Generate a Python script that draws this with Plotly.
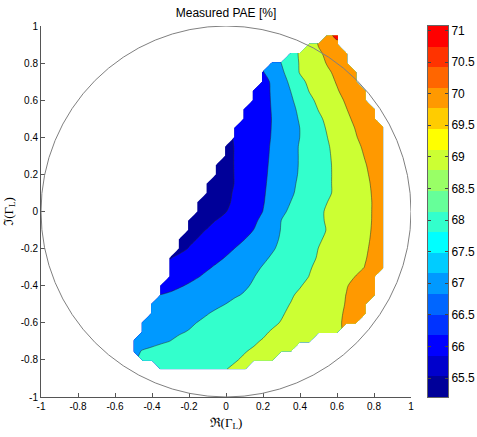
import numpy as np
import plotly.graph_objects as go

# ---------------- data ----------------
# measurement grid: real part (columns) and imaginary part (rows, top -> bottom)
re_grid = [-0.50, -0.45, -0.40, -0.35, -0.30, -0.25, -0.20, -0.15, -0.10, -0.05,
           0.00, 0.05, 0.10, 0.15, 0.20, 0.25, 0.30, 0.35, 0.40, 0.45,
           0.50, 0.55, 0.60, 0.65, 0.70, 0.75, 0.80, 0.85]
im_grid = [0.95, 0.90, 0.85, 0.80, 0.75, 0.70, 0.65, 0.60, 0.55, 0.50,
           0.45, 0.40, 0.35, 0.30, 0.25, 0.20, 0.15, 0.10, 0.05, 0.00,
           -0.05, -0.10, -0.15, -0.20, -0.25, -0.30, -0.35, -0.40, -0.45, -0.50,
           -0.55, -0.60, -0.65, -0.70, -0.75, -0.80, -0.85]
# first measured real-part value of each row
row_first_re = [0.55, 0.45, 0.35, 0.25, 0.20, 0.20, 0.15, 0.15, 0.10, 0.10,
                0.05, 0.05, 0.00, 0.00, -0.05, -0.05, -0.10, -0.10, -0.15, -0.15,
                -0.20, -0.20, -0.25, -0.25, -0.30, -0.30, -0.30, -0.35, -0.35, -0.40,
                -0.40, -0.45, -0.45, -0.50, -0.50, -0.45, -0.35]
# measured PAE [%] along each row (left -> right)
pae_rows = [
    [70.9, 71.1],
    [69.4, 70.05, 70.5, 70.9],
    [68.7, 69.08, 69.46, 69.85, 70.2, 70.55, 70.95],
    [67.5, 68.02, 68.55, 69.07, 69.4, 69.73, 70.07, 70.4, 70.75],
    [66.95, 67.39, 67.83, 68.43, 69.06, 69.33, 69.61, 69.89, 70.17, 70.45, 70.73],
    [66.65, 67.15, 67.65, 68.18, 68.76, 69.18, 69.47, 69.76, 70.06, 70.35, 70.64],
    [66.21, 66.66, 67.11, 67.55, 68.01, 68.53, 69.03, 69.33, 69.64, 69.94, 70.24, 70.55, 70.85],
    [66.28, 66.68, 67.08, 67.48, 67.88, 68.33, 68.81, 69.18, 69.48, 69.79, 70.09, 70.39, 70.7],
    [66.3, 66.5, 66.75, 67.04, 67.41, 67.78, 68.17, 68.61, 69.03, 69.34, 69.66, 69.97, 70.28, 70.6, 70.9],
    [66.2, 66.4, 66.68, 67.03, 67.38, 67.72, 68.08, 68.46, 68.85, 69.19, 69.52, 69.84, 70.16, 70.48, 70.8],
    [66.1, 66.25, 66.45, 66.7, 67.04, 67.36, 67.68, 68.01, 68.37, 68.74, 69.09, 69.41, 69.72, 70.03, 70.34, 70.63, 70.9],
    [66.02, 66.22, 66.45, 66.72, 67.06, 67.37, 67.69, 68.01, 68.34, 68.67, 69.01, 69.32, 69.63, 69.94, 70.25, 70.55, 70.85],
    [65.85, 66.03, 66.28, 66.54, 66.8, 67.08, 67.41, 67.74, 68.06, 68.35, 68.65, 68.94, 69.24, 69.53, 69.82, 70.12, 70.41, 70.7],
    [65.75, 66.05, 66.31, 66.56, 66.82, 67.1, 67.42, 67.74, 68.06, 68.34, 68.63, 68.91, 69.19, 69.47, 69.75, 70.03, 70.3, 70.58],
    [65.5, 65.75, 66.05, 66.32, 66.58, 66.84, 67.13, 67.44, 67.75, 68.06, 68.33, 68.61, 68.89, 69.16, 69.42, 69.68, 69.95, 70.21, 70.47],
    [65.45, 65.72, 66.05, 66.33, 66.6, 66.86, 67.16, 67.47, 67.78, 68.08, 68.35, 68.62, 68.89, 69.15, 69.4, 69.65, 69.9, 70.15, 70.4],
    [65.35, 65.45, 65.7, 66.05, 66.33, 66.61, 66.89, 67.19, 67.52, 67.84, 68.13, 68.38, 68.64, 68.9, 69.14, 69.38, 69.62, 69.86, 70.1, 70.33],
    [65.3, 65.42, 65.8, 66.11, 66.38, 66.65, 66.92, 67.23, 67.57, 67.9, 68.17, 68.41, 68.66, 68.9, 69.14, 69.37, 69.6, 69.84, 70.07, 70.3],
    [65.25, 65.3, 65.5, 65.85, 66.16, 66.42, 66.68, 66.95, 67.29, 67.64, 68.01, 68.25, 68.5, 68.75, 69.01, 69.21, 69.42, 69.63, 69.84, 70.05, 70.26],
    [65.25, 65.35, 65.65, 65.98, 66.25, 66.5, 66.75, 67.01, 67.42, 67.83, 68.15, 68.39, 68.63, 68.87, 69.09, 69.28, 69.47, 69.66, 69.85, 70.05, 70.24],
    [65.3, 65.5, 65.8, 66.04, 66.25, 66.46, 66.67, 66.88, 67.17, 67.61, 68.02, 68.23, 68.45, 68.66, 68.87, 69.08, 69.27, 69.46, 69.66, 69.86, 70.05, 70.24],
    [65.5, 65.85, 66.05, 66.23, 66.41, 66.59, 66.77, 67.01, 67.37, 67.72, 68.04, 68.24, 68.44, 68.64, 68.84, 69.04, 69.25, 69.45, 69.66, 69.86, 70.07, 70.27],
    [65.55, 65.85, 66.04, 66.22, 66.41, 66.59, 66.78, 66.99, 67.28, 67.56, 67.83, 68.08, 68.29, 68.5, 68.71, 68.92, 69.12, 69.31, 69.5, 69.7, 69.89, 70.09, 70.28],
    [65.8, 66.04, 66.24, 66.43, 66.63, 66.82, 67.02, 67.25, 67.48, 67.7, 67.93, 68.15, 68.36, 68.57, 68.79, 69.01, 69.19, 69.37, 69.56, 69.74, 69.93, 70.11, 70.3],
    [65.98, 66.17, 66.34, 66.52, 66.69, 66.86, 67.04, 67.25, 67.46, 67.67, 67.88, 68.08, 68.27, 68.47, 68.67, 68.86, 69.05, 69.24, 69.42, 69.6, 69.78, 69.96, 70.15, 70.33],
    [66.2, 66.4, 66.58, 66.76, 66.92, 67.09, 67.28, 67.47, 67.66, 67.85, 68.04, 68.22, 68.4, 68.58, 68.76, 68.95, 69.12, 69.3, 69.47, 69.65, 69.82, 70.01, 70.18, 70.35],
    [66.45, 66.63, 66.8, 66.97, 67.14, 67.31, 67.47, 67.64, 67.81, 67.98, 68.15, 68.32, 68.49, 68.66, 68.83, 69.01, 69.2, 69.4, 69.6, 69.8, 70.01, 70.2, 70.38],
    [66.6, 66.75, 66.93, 67.08, 67.22, 67.36, 67.5, 67.64, 67.78, 67.92, 68.07, 68.25, 68.43, 68.61, 68.79, 68.96, 69.16, 69.36, 69.56, 69.76, 69.96, 70.16, 70.36, 70.5],
    [67.02, 67.13, 67.25, 67.36, 67.48, 67.59, 67.71, 67.82, 67.94, 68.05, 68.23, 68.4, 68.58, 68.75, 68.93, 69.11, 69.29, 69.46, 69.64, 69.82, 70.01, 70.18, 70.35, 70.5],
    [67.2, 67.3, 67.4, 67.5, 67.6, 67.7, 67.8, 67.9, 68.01, 68.15, 68.29, 68.43, 68.58, 68.72, 68.87, 69.02, 69.19, 69.36, 69.53, 69.69, 69.86, 70.03, 70.2, 70.37],
    [67.35, 67.46, 67.56, 67.67, 67.77, 67.88, 67.98, 68.1, 68.22, 68.34, 68.46, 68.59, 68.71, 68.83, 68.95, 69.1, 69.26, 69.42, 69.58, 69.74, 69.9, 70.06, 70.22, 70.38],
    [67.4, 67.5, 67.6, 67.71, 67.81, 67.92, 68.02, 68.13, 68.24, 68.36, 68.47, 68.58, 68.69, 68.8, 68.91, 69.03, 69.18, 69.33, 69.48, 69.63, 69.78, 69.93, 70.07, 70.22],
    [67.55, 67.65, 67.75, 67.86, 67.96, 68.03, 68.14, 68.26, 68.37, 68.48, 68.59, 68.7, 68.81, 68.92, 69.05, 69.2, 69.35, 69.5, 69.65, 69.78, 69.88, 69.95],
    [67.7, 67.78, 67.85, 67.93, 68.01, 68.11, 68.22, 68.32, 68.42, 68.53, 68.63, 68.74, 68.84, 68.94, 69.04, 69.16, 69.28, 69.4, 69.52, 69.62],
    [67.9, 68.02, 68.1, 68.19, 68.28, 68.37, 68.45, 68.54, 68.63, 68.71, 68.8, 68.89, 68.97, 69.05, 69.14, 69.22, 69.3, 69.38],
    [68.03, 68.12, 68.21, 68.3, 68.4, 68.5, 68.59, 68.69, 68.78, 68.88, 68.97, 69.06, 69.15, 69.23, 69.31],
    [68.25, 68.36, 68.46, 68.56, 68.66, 68.76, 68.87, 68.99, 69.08, 69.16],
]

contour_levels = [66, 67, 68, 69, 70, 71]
cbar_range = [65.2, 71.07]
cbar_ticks = [65.5, 66, 66.5, 67, 67.5, 68, 68.5, 69, 69.5, 70, 70.5, 71]
cbar_text = ["65.5", "66", "66.5", "67", "67.5", "68", "68.5", "69", "69.5", "70", "70.5", "71"]
axis_ticks = [-1, -0.8, -0.6, -0.4, -0.2, 0, 0.2, 0.4, 0.6, 0.8, 1]
axis_text = ["-1", "-0.8", "-0.6", "-0.4", "-0.2", "0", "0.2", "0.4", "0.6", "0.8", "1"]

# ---------------- styles ----------------
jet18 = ["#000099", "#0000cc", "#0000ff", "#0033ff", "#0066ff", "#0099ff",
         "#00ccff", "#00ffff", "#33ffcc", "#66ff99", "#99ff66", "#ccff33",
         "#ffff00", "#ffcc00", "#ff9900", "#ff6600", "#ff3300", "#ff0000"]
sans = "Liberation Sans, Arial, sans-serif"
serif = "Liberation Serif, DejaVu Serif, serif"

# ---------------- assemble the z grid ----------------
re_arr = np.array(re_grid)
z = np.full((len(im_grid), len(re_grid)), np.nan)
for r, (first, vals) in enumerate(zip(row_first_re, pae_rows)):
    c0 = int(np.argmin(np.abs(re_arr - first)))
    z[r, c0:c0 + len(vals)] = vals
z_list = [[(None if np.isnan(v) else float(v)) for v in row] for row in z[::-1]]
im_asc = im_grid[::-1]

# colour of each filled band (MATLAB-style: band coloured by its lower level)
lo, hi = cbar_range
nbands = len(jet18)
band_vals = [lo] + contour_levels
band_cols = [jet18[min(nbands - 1, int((v - lo) / (hi - lo) * nbands))] for v in band_vals]
nb = len(band_cols) - 1
contour_cs = [[i / nb, c] for i, c in enumerate(band_cols)]

cbar_cs = []
for i, c in enumerate(jet18):
    cbar_cs.append([i / nbands, c])
    cbar_cs.append([(i + 1) / nbands, c])
cbar_centers = [lo + (i + 0.5) * (hi - lo) / nbands for i in range(nbands)]

# ---------------- layout geometry ----------------
W, H = 477, 437
PL, PR, PT, PB = 41, 448, 26, 397          # plot area incl. colorbar (px)
main_right, cb_left = 411, 428
pw = PR - PL
main_dom = [0, (main_right - PL) / pw]
cb_dom = [(cb_left - PL) / pw, 1.0]

fig = go.Figure()
fig.add_trace(go.Contour(
    x=re_grid, y=im_asc, z=z_list,
    autocontour=False,
    contours=dict(start=contour_levels[0], end=contour_levels[-1],
                  size=contour_levels[1] - contour_levels[0], coloring="fill",
                  showlines=True),
    colorscale=contour_cs,
    line=dict(color="rgba(40,40,40,0.85)", width=0.6, smoothing=0.8),
    connectgaps=False,
    showscale=False,
    hoverinfo="skip",
    xaxis="x", yaxis="y",
))

# colour bar drawn as a one-column heatmap on its own axes
fig.add_trace(go.Heatmap(
    x=[0], y=cbar_centers, z=[[v] for v in cbar_centers],
    colorscale=cbar_cs, zmin=lo, zmax=hi, showscale=False,
    hoverinfo="skip", xaxis="x2", yaxis="y2",
))

fig.add_shape(type="circle", xref="x", yref="y", x0=-1, y0=-1, x1=1, y1=1,
              line=dict(color="#808080", width=1), layer="above")

axis_common = dict(
    range=[-1, 1], autorange=False, showgrid=False, zeroline=False,
    showline=True, linecolor="#555", linewidth=1,
    ticks="inside", ticklen=4, tickcolor="#555",
    tickmode="array", tickvals=axis_ticks, ticktext=axis_text,
    tickfont=dict(family=sans, size=10, color="black"),
    mirror=False, automargin=False,
)

fig.update_layout(
    width=W, height=H,
    margin=dict(l=PL, r=W - PR, t=PT, b=H - PB, autoexpand=False),
    paper_bgcolor="white", plot_bgcolor="rgba(0,0,0,0)",
    showlegend=False,
    title=dict(text="Measured PAE [%]", x=(main_right + PL) / 2 / W, xref="container",
               xanchor="center", y=1 - 13 / H, yref="container", yanchor="middle",
               font=dict(family=sans, size=12, color="black"), automargin=False),
    xaxis=dict(**axis_common, domain=main_dom, anchor="y",
               title=dict(text="ℜ(Γ<sub>L</sub>)", standoff=6,
                          font=dict(family=serif, size=13, color="black"))),
    yaxis=dict(**axis_common, domain=[0, 1], anchor="x",
               title=dict(text="ℑ(Γ<sub>L</sub>)", standoff=4,
                          font=dict(family=serif, size=13, color="black"))),
    xaxis2=dict(domain=cb_dom, anchor="y2", range=[-0.5, 0.5], autorange=False,
                showticklabels=False, ticks="", showgrid=False, zeroline=False,
                showline=True, linecolor="#666", linewidth=1, mirror=True,
                automargin=False),
    yaxis2=dict(domain=[0, 1], anchor="x2", side="right", range=[lo, hi],
                autorange=False, showgrid=False, zeroline=False,
                showline=True, linecolor="#666", linewidth=1, mirror="ticks",
                ticks="inside", ticklen=3, tickcolor="#444",
                tickmode="array", tickvals=cbar_ticks, ticktext=cbar_text,
                tickfont=dict(family=sans, size=12, color="black"),
                automargin=False),
)

fig.write_html("out.html")
